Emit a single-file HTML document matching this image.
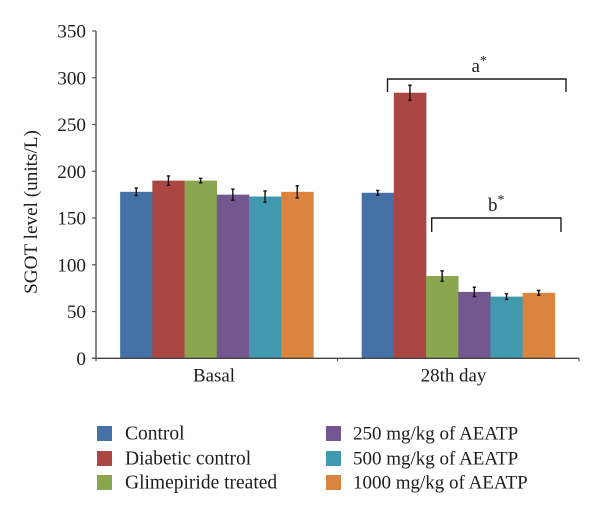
<!DOCTYPE html>
<html><head><meta charset="utf-8"><title>SGOT level chart</title>
<style>
html,body{margin:0;padding:0;background:#fff;}
svg{display:block;}
text{font-family:"Liberation Serif",serif;fill:#1d1d1b;}
</style></head>
<body>
<svg id="chart" width="600" height="516" viewBox="0 0 600 516" xmlns="http://www.w3.org/2000/svg">
  <path d="M387.5 92V79H566V92" fill="none" stroke="#1a1a1a" stroke-width="1.4"/>
  <text x="471.5" y="72" font-size="19">a<tspan dy="-7" font-size="14">*</tspan></text>
  <path d="M431.7 232V218H561V232" fill="none" stroke="#1a1a1a" stroke-width="1.4"/>
  <text x="488" y="211" font-size="19">b<tspan dy="-7" font-size="14">*</tspan></text>
  <text transform="translate(37 212) rotate(-90)" text-anchor="middle" font-size="19.2">SGOT level (units/L)</text>
</svg>
<script>
const categories = ['Basal', '28th day'];
const seriesNames = ['Control', 'Diabetic control', 'Glimepiride treated', '250 mg/kg of AEATP', '500 mg/kg of AEATP', '1000 mg/kg of AEATP'];
const seriesColors = ['#4571a6', '#aa4644', '#8aa64e', '#73578f', '#4199b0', '#db843d'];
const controlValues = [178, 177];
const diabeticValues = [190, 284];
const glimepirideValues = [190, 88];
const dose250Values = [175, 71];
const dose500Values = [173, 66];
const dose1000Values = [178, 70];
const controlErrors = [4, 2.5];
const diabeticErrors = [5, 8];
const glimepirideErrors = [2.5, 5.5];
const dose250Errors = [6, 5];
const dose500Errors = [6, 3];
const dose1000Errors = [6.5, 2.5];
const yTicks = [0, 50, 100, 150, 200, 250, 300, 350];

const seriesValues = [controlValues, diabeticValues, glimepirideValues, dose250Values, dose500Values, dose1000Values];
const seriesErrors = [controlErrors, diabeticErrors, glimepirideErrors, dose250Errors, dose500Errors, dose1000Errors];

const svg = document.getElementById('chart');
const NS = 'http://www.w3.org/2000/svg';
const plot = { left: 96, right: 579, top: 31, bottom: 358.3, yMax: 350 };
const yScale = v => plot.bottom - (v / plot.yMax) * (plot.bottom - plot.top);
const bandW = (plot.right - plot.left) / categories.length;
const barW = bandW * 0.8 / seriesNames.length;
const xScale = (c, s) => plot.left + c * bandW + bandW * 0.1 + s * barW;

function mk(tag, attrs, text) {
  const el = document.createElementNS(NS, tag);
  for (const k in attrs) el.setAttribute(k, attrs[k]);
  if (text !== undefined) el.textContent = text;
  svg.appendChild(el);
  return el;
}

// bars
seriesNames.forEach((name, s) => {
  categories.forEach((cat, c) => {
    const v = seriesValues[s][c];
    const bar = mk('rect', { x: xScale(c, s), y: yScale(v), width: barW + 0.3, height: plot.bottom - yScale(v), fill: seriesColors[s] });
    
    
  });
});

// error bars
seriesNames.forEach((name, s) => {
  categories.forEach((cat, c) => {
    const v = seriesValues[s][c], e = seriesErrors[s][c];
    const cx = xScale(c, s) + barW / 2;
    const d = `M${cx} ${yScale(v + e)}V${yScale(v - e)}M${cx - 1.7} ${yScale(v + e)}H${cx + 1.7}M${cx - 1.7} ${yScale(v - e)}H${cx + 1.7}`;
    const err = mk('path', { d, stroke: '#111', 'stroke-width': 1.4, fill: 'none' });
    
    
  });
});

// axes
const yAxis = mk('line', { x1: plot.left, x2: plot.left, y1: plot.top, y2: plot.bottom, stroke: '#555', 'stroke-width': 1.4 });


const xAxis = mk('line', { x1: plot.left - 4, x2: plot.right, y1: plot.bottom, y2: plot.bottom, stroke: '#444', 'stroke-width': 1.4 });



yTicks.forEach(t => {
  const tick = mk('line', { x1: plot.left - 4, x2: plot.left, y1: yScale(t), y2: yScale(t), stroke: '#555', 'stroke-width': 1.2 });
  
  
  const label = mk('text', { x: 86, y: yScale(t) + 6.5, 'text-anchor': 'end', 'font-size': 19.2 }, String(t));
  
  
});

for (let i = 0; i <= categories.length; i++) {
  const x = plot.left + i * bandW;
  const tick = mk('line', { x1: x, x2: x, y1: plot.bottom, y2: plot.bottom + 3, stroke: '#555', 'stroke-width': 1.2 });
  
  
}
categories.forEach((cat, c) => {
  const label = mk('text', { x: plot.left + (c + 0.5) * bandW - 2.75 - c * 2, y: 381.5, 'text-anchor': 'middle', 'font-size': 18.9 }, cat);
  
  
});

// legend
const legendColX = [97, 326];
const legendRowY = [426, 451, 475];
seriesNames.forEach((name, s) => {
  const col = Math.floor(s / 3), row = s % 3;
  const sw = mk('rect', { x: legendColX[col], y: legendRowY[row], width: 15, height: 15, fill: seriesColors[s] });
  
  
  const label = mk('text', { x: legendColX[col] + (col ? 27 : 28), y: legendRowY[row] + 13.5, 'font-size': col ? 19 : 19.5 }, name);
  
  
});
</script>
</body></html>
